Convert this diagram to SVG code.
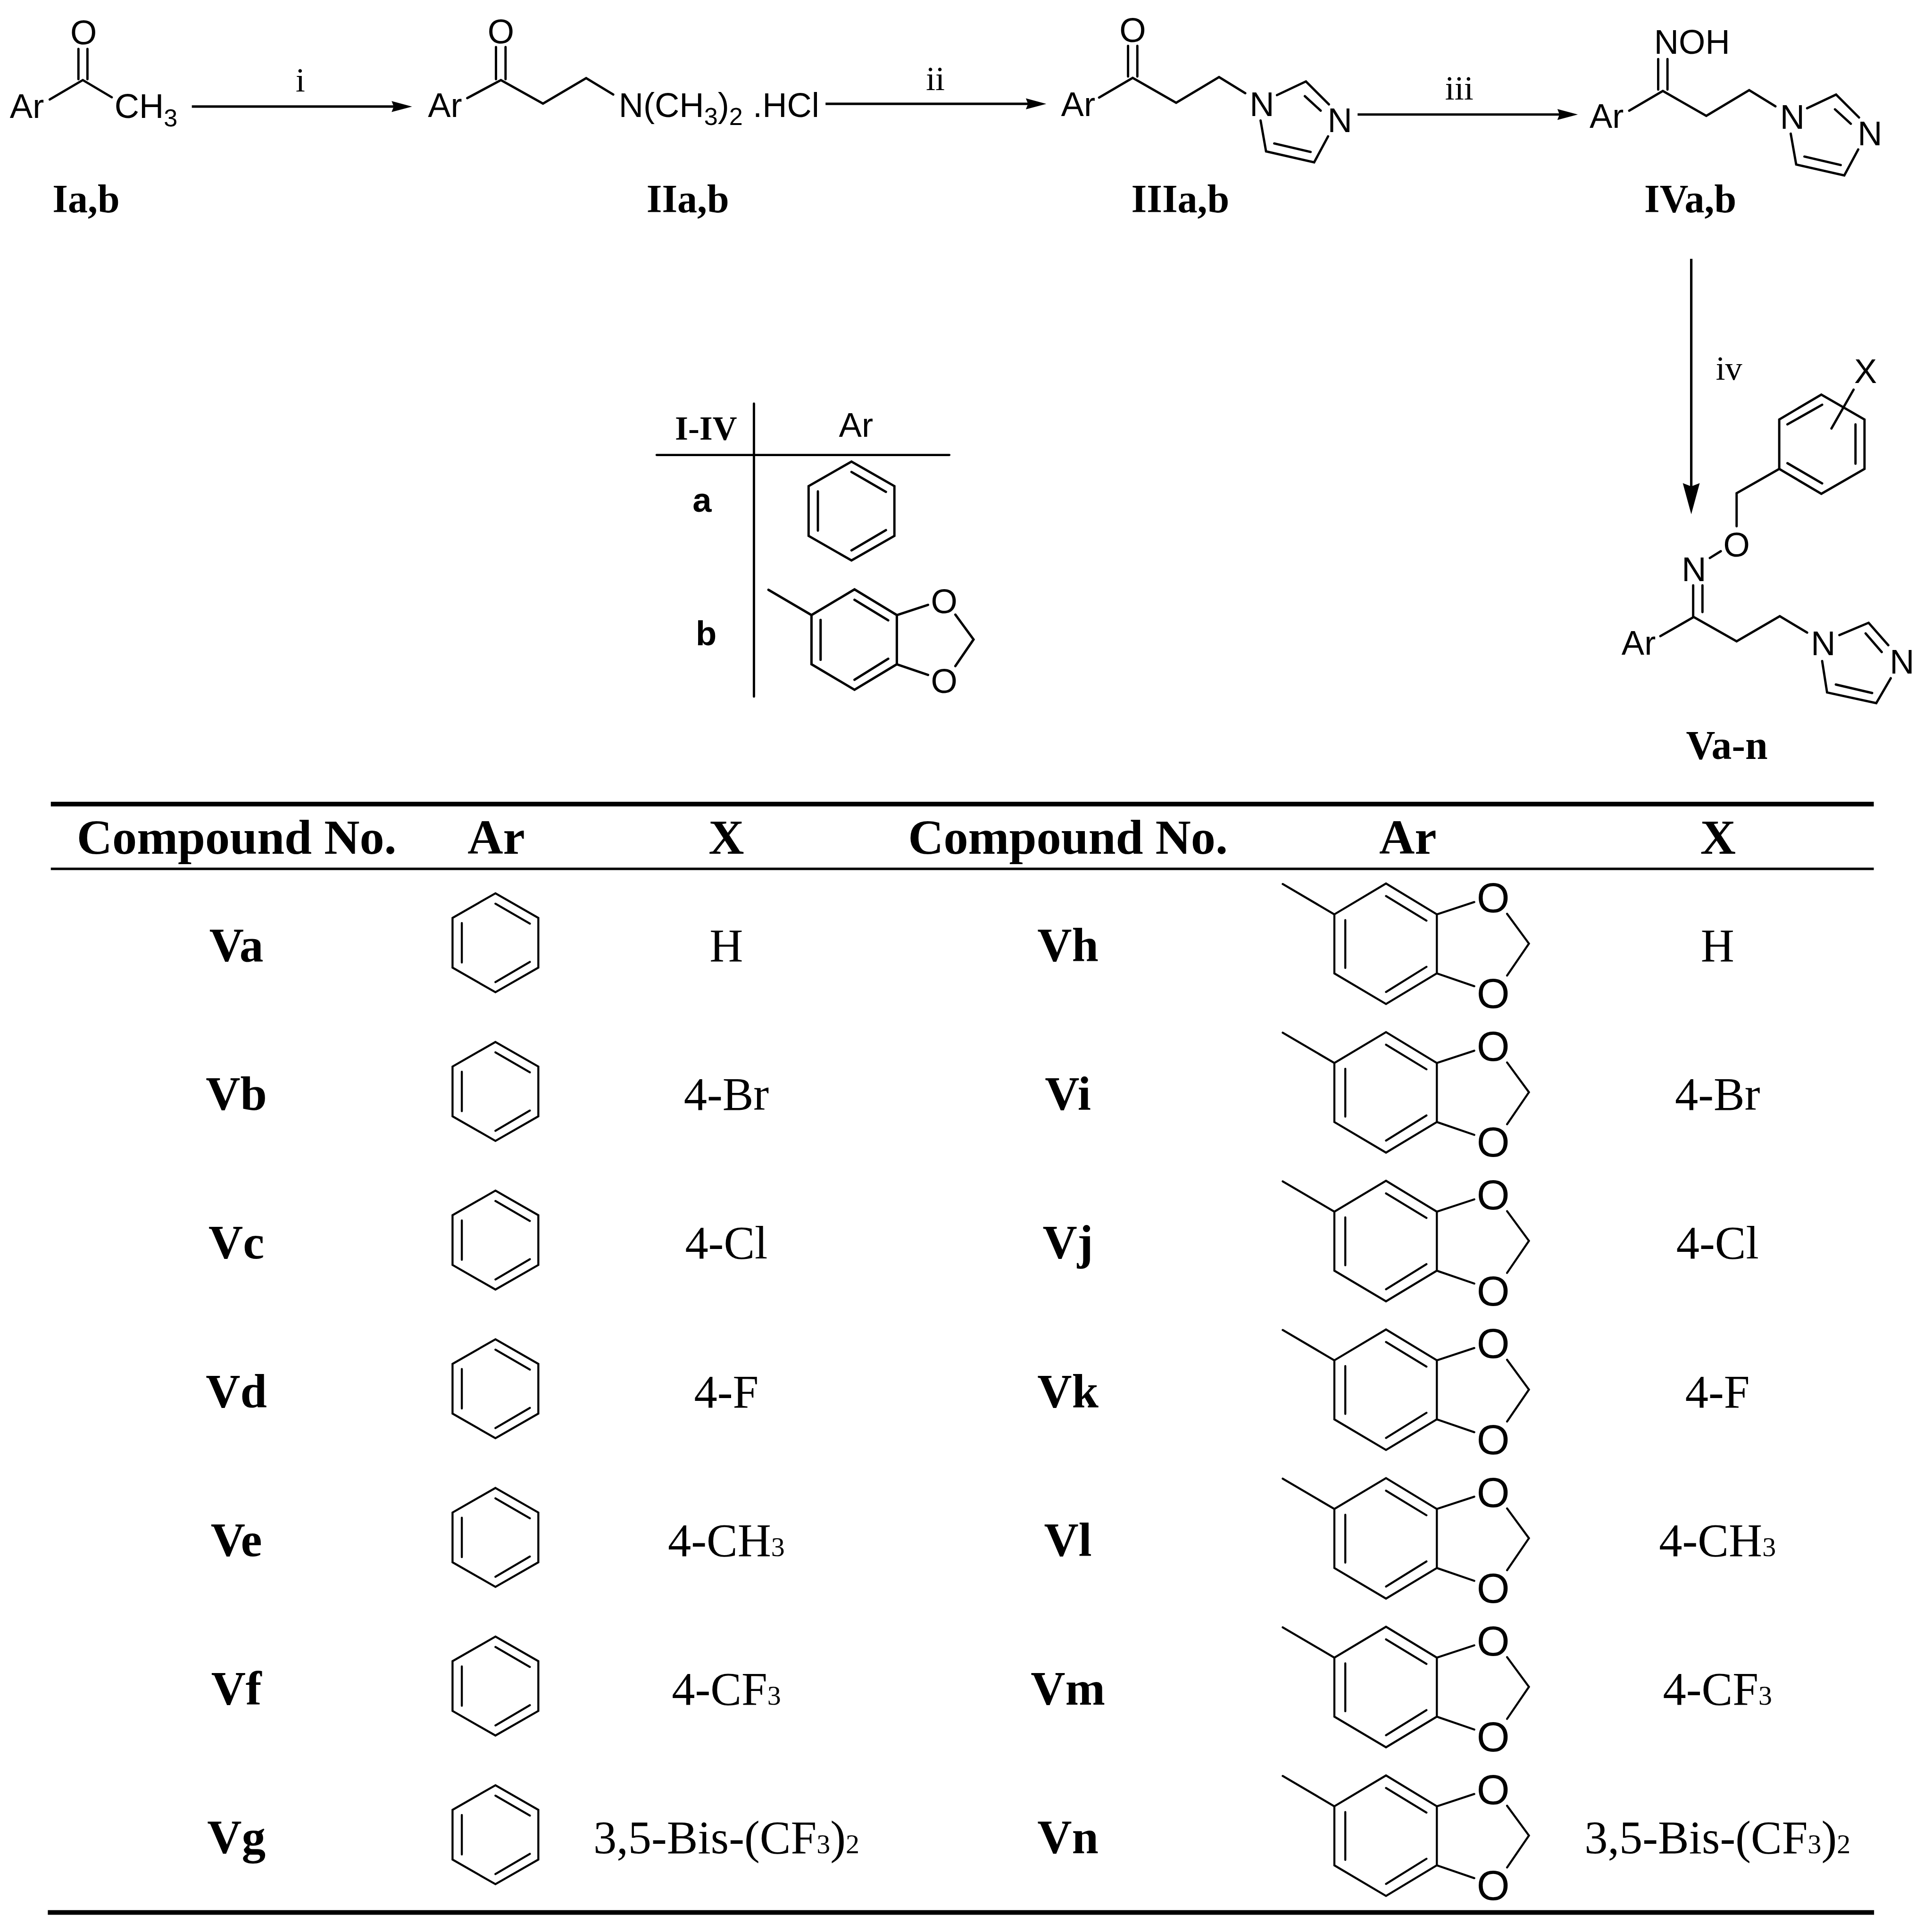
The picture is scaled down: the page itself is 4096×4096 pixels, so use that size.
<svg xmlns="http://www.w3.org/2000/svg" xmlns:xlink="http://www.w3.org/1999/xlink" width="4096" height="4096" viewBox="0 0 4096 4096">
<style>
.sk{fill:none;stroke:#000;stroke-width:8.5;stroke-linecap:round;stroke-linejoin:miter}
.thin{stroke-width:7.5}
.chem{font-family:"Liberation Sans",Arial,sans-serif;font-size:125px;fill:#000}
.sub{font-size:90px}
.lab{font-family:"Liberation Serif","Times New Roman",serif;font-size:145px;font-weight:bold;fill:#000}
.step{font-family:"Liberation Serif","Times New Roman",serif;font-size:125px;fill:#000;text-anchor:middle}
.ttl{font-family:"Liberation Serif","Times New Roman",serif;font-size:180px;font-weight:bold;fill:#000;text-anchor:middle}
.id{font-family:"Liberation Serif","Times New Roman",serif;font-size:175px;font-weight:bold;fill:#000;text-anchor:middle}
.val{font-family:"Liberation Serif","Times New Roman",serif;font-size:170px;fill:#000;text-anchor:middle}
.s{font-size:100px}
.o{font-family:"Liberation Sans",Arial,sans-serif;font-size:155px;fill:#000;text-anchor:middle}
.mid{text-anchor:middle}
.conn{fill:none;stroke:#000;stroke-width:9}
</style>
<defs>
<marker id="hd" markerUnits="userSpaceOnUse" markerWidth="90" markerHeight="44" viewBox="0 -22 90 44" refX="12" refY="0" orient="auto"><path d="M0,-20L75,0L0,20L8,0Z" fill="#000"/></marker>
<marker id="hdL" markerUnits="userSpaceOnUse" markerWidth="130" markerHeight="68" viewBox="0 -34 130 68" refX="16" refY="0" orient="auto"><path d="M0,-31L114,0L0,31L12,0Z" fill="#000"/></marker>
<path id="benz" d="M0,-181L157,-91V91L0,181L-157,91V-91ZM0,-143L126,-70M-123,-72V72M126,70L0,144"/>
<path id="diox" d="M-378,-218L-189,-107M-189,-107L0,-220L186,-107V109L0,221L-189,109ZM0,-174L148,-84M-149,-86V89M148,85L0,177M186,-107L323,-152M186,109L323,156M443,-109L523,0L443,117"/>
<path id="imz" d="M4128,168V280M4162,168V280M4022,357L4145,285L4304,376L4461,282L4557,341M4673,348L4779,298L4863,382M4775,352L4833,405M4613,441L4633,554L4809,594L4860,499M4663,525L4796,556"/>
</defs>
<rect width="4096" height="4096" fill="#fff"/>
<g transform="scale(0.57935)">
<g id="connectors">
<path class="conn" marker-end="url(#hd)" d="M702,390H1445"/>
<path class="conn" marker-end="url(#hd)" d="M3021,380H3766"/>
<path class="conn" marker-end="url(#hd)" d="M4968,419H5711"/>
<path class="conn" marker-end="url(#hdL)" d="M6189,947V1784"/>
<text class="step" x="1099" y="334">i</text>
<text class="step" x="3423" y="329">ii</text>
<text class="step" x="5340" y="364">iii</text>
<text class="step" x="6327" y="1389">iv</text>
</g>
<g id="Ia">
<path class="sk" d="M287,179V290M320,179V290M182,364L303,293L409,356"/>
<text class="chem mid" x="306" y="162">O</text>
<text class="chem" x="36" y="432">Ar</text>
<text class="chem" x="419" y="432">CH<tspan class="sub" dy="30">3</tspan></text>
<text class="lab" x="192" y="776">Ia,b</text>
</g>
<g id="IIa">
<path class="sk" d="M1815,172V290M1850,172V290M1710,359L1833,293L1987,379L2145,286L2244,346"/>
<text class="chem mid" x="1833" y="158">O</text>
<text class="chem" x="1566" y="428">Ar</text>
<text class="chem" x="2264" y="428">N(CH<tspan class="sub" dy="30">3</tspan><tspan dy="-30">)</tspan><tspan class="sub" dy="30">2</tspan></text>
<text class="chem" x="2755" y="428">.HCl</text>
<text class="lab" x="2366" y="776">IIa,b</text>
</g>
<g id="IIIa">
<use class="sk" href="#imz"/>
<text class="chem mid" x="4145" y="154">O</text>
<text class="chem" x="3883" y="424">Ar</text>
<text class="chem mid" x="4618" y="424">N</text>
<text class="chem mid" x="4903" y="484">N</text>
<text class="lab" x="4140" y="776">IIIa,b</text>
</g>
<g id="IVa">
<use class="sk" href="#imz" transform="translate(1940,48)"/>
<text class="chem" x="6053" y="196">NOH</text>
<text class="chem" x="5817" y="468">Ar</text>
<text class="chem mid" x="6559" y="471">N</text>
<text class="chem mid" x="6843" y="532">N</text>
<text class="lab" x="6017" y="776">IVa,b</text>
</g>
<g id="Va-n">
<path class="sk" d="M6665,1444L6823,1535V1716L6665,1807L6511,1716V1535ZM6541,1553L6668,1481M6790,1553V1697M6541,1695L6668,1769M6783,1426L6702,1568M6511,1716L6355,1805V1926M6297,2017L6257,2042M6196,2142V2258M6230,2142V2240M6076,2328L6198,2258L6355,2347L6513,2255L6613,2315M6731,2324L6838,2279L6910,2361M6827,2318L6886,2386M6919,2482L6866,2573L6686,2534L6668,2419M6718,2505L6851,2536"/>
<text class="chem mid" x="6827" y="1402">X</text>
<text class="chem mid" x="6355" y="2036">O</text>
<text class="chem mid" x="6199" y="2126">N</text>
<text class="chem" x="5934" y="2396">Ar</text>
<text class="chem mid" x="6672" y="2397">N</text>
<text class="chem mid" x="6960" y="2465">N</text>
<text class="lab" x="6170" y="2778" style="font-size:148px">Va-n</text>
</g>
<g id="ar-key">
<path class="sk" d="M2759,1477V2549M2403,1665H3474"/>
<text class="lab" style="font-size:124px" x="2470" y="1608">I-IV</text>
<text class="chem" x="3070" y="1599">Ar</text>
<text style="font-family:'Liberation Sans',Arial,sans-serif;font-size:125px;font-weight:bold" x="2569" y="1873" text-anchor="middle">a</text>
<text style="font-family:'Liberation Sans',Arial,sans-serif;font-size:125px;font-weight:bold" x="2584" y="2362" text-anchor="middle">b</text>
<use class="sk" href="#benz" transform="translate(3116,1870)"/>
<use class="sk" style="stroke-width:10.5" href="#diox" transform="translate(3127,2340) scale(.833)"/>
<text class="chem mid" x="3455" y="2244">O</text>
<text class="chem mid" x="3455" y="2536">O</text>
</g>
<g id="table-rules">
<rect x="186" y="2934" width="6671" height="17"/>
<rect x="186" y="3175" width="6671" height="9"/>
<rect x="175" y="6990" width="6683" height="17"/>
</g>
<g id="table-head">
<text class="ttl" x="866" y="3124">Compound No.</text>
<text class="ttl" x="1816" y="3124">Ar</text>
<text class="ttl" x="2658" y="3124">X</text>
<text class="ttl" x="3908" y="3124">Compound No.</text>
<text class="ttl" x="5152" y="3124">Ar</text>
<text class="ttl" x="6287" y="3124">X</text>
</g>
<g id="row-a"><text class="id" x="865" y="3518">Va</text><use class="sk thin" href="#benz" transform="translate(1813,3450)"/><text class="val" x="2658" y="3518">H</text></g>
<g id="row-b"><text class="id" x="865" y="4062">Vb</text><use class="sk thin" href="#benz" transform="translate(1813,3994)"/><text class="val" x="2658" y="4062">4-Br</text></g>
<g id="row-c"><text class="id" x="865" y="4606">Vc</text><use class="sk thin" href="#benz" transform="translate(1813,4538)"/><text class="val" x="2658" y="4606">4-Cl</text></g>
<g id="row-d"><text class="id" x="865" y="5150">Vd</text><use class="sk thin" href="#benz" transform="translate(1813,5082)"/><text class="val" x="2658" y="5150">4-F</text></g>
<g id="row-e"><text class="id" x="865" y="5694">Ve</text><use class="sk thin" href="#benz" transform="translate(1813,5626)"/><text class="val" x="2658" y="5694">4-CH<tspan class="s">3</tspan></text></g>
<g id="row-f"><text class="id" x="865" y="6238">Vf</text><use class="sk thin" href="#benz" transform="translate(1813,6170)"/><text class="val" x="2658" y="6238">4-CF<tspan class="s">3</tspan></text></g>
<g id="row-g"><text class="id" x="865" y="6782">Vg</text><use class="sk thin" href="#benz" transform="translate(1813,6714)"/><text class="val" x="2658" y="6782">3,5-Bis-(CF<tspan class="s">3</tspan>)<tspan class="s">2</tspan></text></g>
<g id="row-h"><text class="id" x="3908" y="3518">Vh</text><use class="sk thin" href="#diox" transform="translate(5072,3453)"/><text class="o" x="5464" y="3338">O</text><text class="o" x="5464" y="3689">O</text><text class="val" x="6285" y="3518">H</text></g>
<g id="row-i"><text class="id" x="3908" y="4062">Vi</text><use class="sk thin" href="#diox" transform="translate(5072,3997)"/><text class="o" x="5464" y="3882">O</text><text class="o" x="5464" y="4233">O</text><text class="val" x="6285" y="4062">4-Br</text></g>
<g id="row-j"><text class="id" x="3908" y="4606">Vj</text><use class="sk thin" href="#diox" transform="translate(5072,4541)"/><text class="o" x="5464" y="4426">O</text><text class="o" x="5464" y="4777">O</text><text class="val" x="6285" y="4606">4-Cl</text></g>
<g id="row-k"><text class="id" x="3908" y="5150">Vk</text><use class="sk thin" href="#diox" transform="translate(5072,5085)"/><text class="o" x="5464" y="4970">O</text><text class="o" x="5464" y="5321">O</text><text class="val" x="6285" y="5150">4-F</text></g>
<g id="row-l"><text class="id" x="3908" y="5694">Vl</text><use class="sk thin" href="#diox" transform="translate(5072,5629)"/><text class="o" x="5464" y="5514">O</text><text class="o" x="5464" y="5865">O</text><text class="val" x="6285" y="5694">4-CH<tspan class="s">3</tspan></text></g>
<g id="row-m"><text class="id" x="3908" y="6238">Vm</text><use class="sk thin" href="#diox" transform="translate(5072,6173)"/><text class="o" x="5464" y="6058">O</text><text class="o" x="5464" y="6409">O</text><text class="val" x="6285" y="6238">4-CF<tspan class="s">3</tspan></text></g>
<g id="row-n"><text class="id" x="3908" y="6782">Vn</text><use class="sk thin" href="#diox" transform="translate(5072,6717)"/><text class="o" x="5464" y="6602">O</text><text class="o" x="5464" y="6953">O</text><text class="val" x="6285" y="6782">3,5-Bis-(CF<tspan class="s">3</tspan>)<tspan class="s">2</tspan></text></g>
</g>
</svg>
